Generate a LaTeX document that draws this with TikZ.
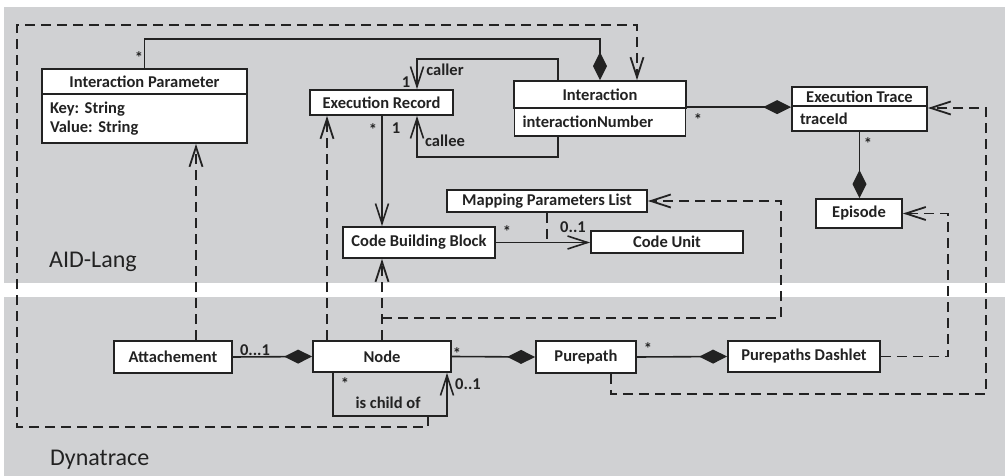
\documentclass[tikz,border=0pt]{standalone}
\usepackage{fontspec}
\setmainfont{Carlito}
\usetikzlibrary{arrows.meta}
\frenchspacing

\definecolor{bggray}{HTML}{D0D1D3}
\definecolor{ink}{HTML}{222222}

\tikzset{
  cls/.style={draw=ink, fill=white, line width=1.8pt, inner sep=0pt,
    font=\fontsize{16.5}{19}\selectfont\bfseries, text=ink},
  attr/.style={cls, align=left, inner xsep=8pt},
  lbl/.style={inner sep=0pt, font=\fontsize{16.5}{19}\selectfont\bfseries, text=ink},
  area/.style={inner sep=0pt, anchor=west, font=\fontsize{24}{28}\selectfont, text=ink},
  assoc/.style={draw=ink, line width=1.6pt, -{Straight Barb[length=20pt,width=13pt]}},
  comp/.style={draw=ink, line width=1.6pt, -{Diamond[length=28pt,width=14pt]}},
  dline/.style={draw=ink, line width=1.8pt, dash pattern=on 10pt off 6pt},
  dep/.style={dline, -{Straight Barb[length=20pt,width=13pt]}},
}

\begin{document}
\begin{tikzpicture}[x=1pt,y=-1pt]

\useasboundingbox (0,0) rectangle (1005,476);
\fill[white] (0,0) rectangle (1005,476);
\fill[bggray] (4,7) rectangle (1005,283);
\fill[bggray] (4,297) rectangle (1005,476);

\node[area] (aid) at (49,262) {AID-Lang};
\node[area] (dyna) at (50,460) {Dynatrace};

% AID-Lang classes
\node[cls, minimum width=205pt, minimum height=25pt] (ip) at (144.5,81.5) {Interaction Parameter};
\node[attr, minimum height=49pt, text width=189pt] (ipattr) at (144.5,118.5) {Key: String\\Value: String};
\node[cls, minimum width=143pt, minimum height=25pt] (er) at (381.5,102.5) {Execution Record};
\node[cls, minimum width=172pt, minimum height=27pt] (inter) at (600,94.5) {Interaction};
\node[attr, minimum height=28pt, text width=155pt] (interattr) at (600,122) {interactionNumber};
\node[cls, minimum width=135pt, minimum height=19pt] (et) at (859.5,96.5) {Execution Trace};
\node[attr, minimum height=25pt, text width=119pt] (etattr) at (859.5,118.5) {traceId};
\node[cls, minimum width=86pt, minimum height=29pt] (ep) at (859,213.5) {Episode};
\node[cls, minimum width=200pt, minimum height=22pt] (mpl) at (547,201) {Mapping Parameters List};
\node[cls, minimum width=152pt, minimum height=31pt] (cbb) at (419,242.5) {Code Building Block};
\node[cls, minimum width=152pt, minimum height=22pt] (cu) at (667,242) {Code Unit};

% Dynatrace classes
\node[cls, minimum width=118pt, minimum height=32pt] (att) at (173,357) {Attachement};
\node[cls, minimum width=138pt, minimum height=31pt] (node) at (382,356.5) {Node};
\node[cls, minimum width=100pt, minimum height=32pt] (pp) at (586,357) {Purepath};
\node[cls, minimum width=152pt, minimum height=31pt] (pd) at (804,356.5) {Purepaths Dashlet};

% associations
\draw[comp] (ip.north) |- (600,39) -- (inter.north);
\draw[assoc] (558,0 |- inter.north) |- (417,59) -- (417,0 |- er.north);
\draw[assoc] (558,0 |- interattr.south) |- (417,157) -- (417,0 |- er.south);
\draw[assoc] (382,0 |- er.south) -- (382,0 |- cbb.north);
\draw[comp] (interattr.north east) -- (interattr.north east -| et.west);
\draw[comp] (etattr.south) -- (etattr.south |- ep.north);
\draw[assoc] (cbb.east) -- (cbb.east -| cu.west);
\draw[dline] (mpl.south) -- (mpl.south |- cbb.east);
\draw[comp] (att.east) -- (node.west);
\draw[comp] (node.east) -- (pp.west);
\draw[comp] (pp.east) -- (pd.west);
\draw[assoc] (333,0 |- node.south) |- (447,416) -- (447,0 |- node.south);

% dependencies
\coordinate (childof) at (428,416);
\draw[dep] (childof) |- (17,427) |- (637,25) -- (637,0 |- inter.north);
\draw[dep] (196,0 |- att.north) -- (196,0 |- ipattr.south);
\draw[dep] (327,0 |- node.north) -- (327,0 |- er.south);
\draw[dep] (node.north) -- (node.north |- cbb.south);
\draw[dep] (node.north |- 0,318) -| (781,201) -- (mpl.east);
\draw[dep] (611,0 |- pp.south) |- (986,394) |- (et.east |- 0,108);
\draw[dep] (pd.east) -| (948,213.5) -- (ep.east);

% multiplicities and roles
\node[lbl] (m1) at (139,58) {*};
\node[lbl] (m2) at (406,82) {1};
\node[lbl] (r1) at (445,70) {caller};
\node[lbl] (m3) at (373,130) {*};
\node[lbl] (m4) at (396,128) {1};
\node[lbl] (r2) at (445,141) {callee};
\node[lbl] (m5) at (698,120) {*};
\node[lbl] (m6) at (868,144) {*};
\node[lbl] (m7) at (507,232) {*};
\node[lbl] (m8) at (573,227) {0..1};
\node[lbl] (m9) at (255,350) {0...1};
\node[lbl] (m10) at (457,354) {*};
\node[lbl] (m11) at (345,384) {*};
\node[lbl] (r3) at (388,403) {is child of};
\node[lbl] (m12) at (468,384) {0..1};
\node[lbl] (m13) at (648,349) {*};

\end{tikzpicture}
\end{document}
